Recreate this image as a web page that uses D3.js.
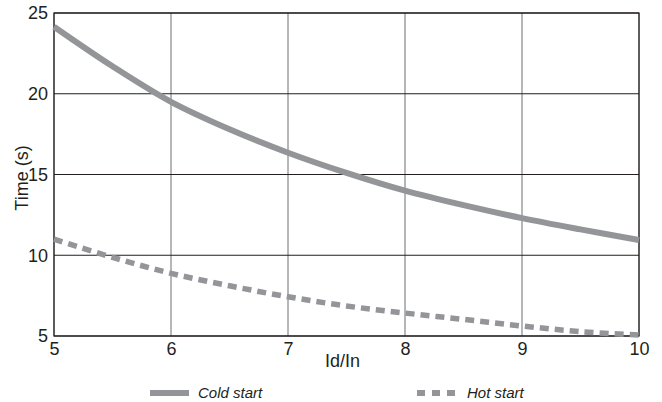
<!DOCTYPE html>
<html>
<head>
<meta charset="utf-8">
<script src="https://cdn.jsdelivr.net/npm/d3@7"></script>
<style>
  body { margin: 0; background: #fff; }
  svg { display: block; font-family: "Liberation Sans", Arial, sans-serif; }
</style>
</head>
<body>
<svg id="chart" width="662" height="402"></svg>
<script>
// Id/In ratio
const ratio = [5, 5.5, 6, 6.5, 7, 7.5, 8, 8.5, 9, 9.5, 10];
// trip time in seconds
const coldStart = [24.15, 21.7, 19.5, 17.8, 16.35, 15.1, 14.0, 13.1, 12.3, 11.6, 10.94];
const hotStart = [11.0, 9.87, 8.88, 8.11, 7.43, 6.86, 6.42, 6.03, 5.62, 5.27, 5.06];
const xTicks = [5, 6, 7, 8, 9, 10];
const yTicks = [5, 10, 15, 20, 25];

const margin = {top: 13, right: 23, bottom: 66, left: 54};
const width = 662 - margin.left - margin.right;
const height = 402 - margin.top - margin.bottom;
const grey = "#939598";

const svg = d3.select("#chart");
const g = svg.append("g").attr("transform", `translate(${margin.left},${margin.top})`);

const x = d3.scaleLinear().domain([5, 10]).range([0, width]);
const y = d3.scaleLinear().domain([5, 25]).range([height, 0]);

// grid
g.append("g")
  .selectAll("line")
  .data(xTicks)
  .join("line")
  .attr("x1", d => x(d)).attr("x2", d => x(d))
  .attr("y1", 0).attr("y2", height)
  .attr("stroke", "#6d6e71")
  .attr("stroke-width", 1);

g.append("g")
  .selectAll("line")
  .data(yTicks)
  .join("line")
  .attr("x1", 0).attr("x2", width)
  .attr("y1", d => y(d)).attr("y2", d => y(d))
  .attr("stroke", "#231f20")
  .attr("stroke-width", 1);

g.append("rect")
  .attr("width", width).attr("height", height)
  .attr("fill", "none")
  .attr("stroke", "#231f20")
  .attr("stroke-width", 1.2);

// axes
const xAxis = g.append("g")
  .attr("transform", `translate(0,${height})`)
  .call(d3.axisBottom(x).tickValues(xTicks).tickFormat(d3.format("d")).tickSize(0).tickPadding(6));
const yAxis = g.append("g")
  .call(d3.axisLeft(y).tickValues(yTicks).tickFormat(d3.format("d")).tickSize(0).tickPadding(6));
[xAxis, yAxis].forEach(a => {
  a.select(".domain").remove();
  a.selectAll("text")
    .attr("font-size", 18)
    .attr("fill", "#231f20")
    .attr("font-family", "Liberation Sans, Arial, sans-serif");
});

// curves
const line = d3.line()
  .x((d, i) => x(ratio[i]))
  .y(d => y(d))
  .curve(d3.curveCatmullRom);

g.append("path")
  .datum(coldStart)
  .attr("d", line)
  .attr("fill", "none")
  .attr("stroke", grey)
  .attr("stroke-width", 6);

g.append("path")
  .datum(hotStart)
  .attr("d", line)
  .attr("fill", "none")
  .attr("stroke", grey)
  .attr("stroke-width", 5.5)
  .attr("stroke-dasharray", "9,6");

// axis titles
svg.append("text")
  .attr("x", margin.left + width / 2 - 4)
  .attr("y", 367)
  .attr("text-anchor", "middle")
  .attr("font-size", 18)
  .attr("fill", "#231f20")
  .text("Id/In");

svg.append("text")
  .attr("transform", "translate(28,178) rotate(-90)")
  .attr("text-anchor", "middle")
  .attr("font-size", 18)
  .attr("fill", "#231f20")
  .text("Time (s)");

// legend
const legend = [
  {label: "Cold start", x1: 150, x2: 189, tx: 198, dash: null},
  {label: "Hot start", x1: 417, x2: 456, tx: 467, dash: "8,7"}
];
legend.forEach(l => {
  svg.append("line")
    .attr("x1", l.x1).attr("x2", l.x2)
    .attr("y1", 393).attr("y2", 393)
    .attr("stroke", grey)
    .attr("stroke-width", 6)
    .attr("stroke-dasharray", l.dash);
  svg.append("text")
    .attr("x", l.tx)
    .attr("y", 398)
    .attr("font-size", 15)
    .attr("font-style", "italic")
    .attr("fill", "#231f20")
    .text(l.label);
});
</script>
</body>
</html>
